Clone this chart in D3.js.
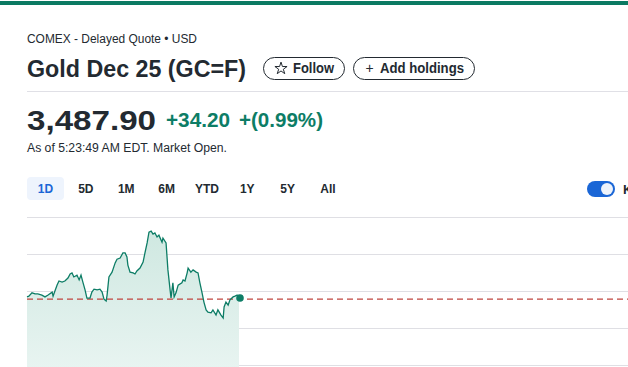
<!DOCTYPE html>
<html>
<head>
<meta charset="utf-8">
<script src="https://cdn.jsdelivr.net/npm/d3@7"></script>
<style>
  html, body { margin: 0; padding: 0; background: #fff; overflow: hidden; }
  svg { display: block; font-family: "Liberation Sans", Arial, sans-serif; }
</style>
</head>
<body>
<div id="chart"></div>
<script>
// Intraday quote (minutes after session open)
const minutes = [0, 6, 16, 26, 35, 48, 58, 68, 81, 84, 90, 97, 103, 113, 122, 132, 139, 145, 151, 161,
  168, 174, 180, 187, 193, 203, 209, 216, 226, 235, 242, 248, 255, 258, 264, 274, 284, 290, 300, 309,
  316, 322, 325, 332, 342, 348, 354, 364, 374, 380, 387, 393, 400, 406, 412, 419, 425, 435, 438, 448,
  454, 461, 464, 470, 474, 480, 487, 499, 503, 509, 516, 519, 528, 535, 545, 551, 557, 564, 570, 577,
  583, 593, 599, 609, 615, 625, 632, 635, 641, 648, 654, 664, 670, 677, 683];
const prices = [3478.4, 3478.6, 3479.5, 3479.2, 3479.2, 3478.9, 3478.4, 3478.9, 3479.7, 3478.6, 3480.0, 3481.6, 3482.7, 3482.4, 3482.7, 3483.5, 3484.6, 3484.9, 3483.8, 3484.3,
  3483.0, 3484.3, 3482.4, 3480.3, 3478.1, 3478.1, 3479.7, 3480.5, 3480.3, 3480.5, 3479.7, 3477.8, 3477.3, 3478.9, 3483.8, 3485.1, 3487.6, 3488.6, 3488.9, 3490.3,
  3490.3, 3489.2, 3487.0, 3485.1, 3484.9, 3484.6, 3485.4, 3486.2, 3487.8, 3490.3, 3493.0, 3495.9, 3496.2, 3495.4, 3495.7, 3494.6, 3495.1, 3493.2, 3494.3, 3493.0,
  3485.7, 3480.3, 3478.1, 3482.2, 3478.4, 3479.5, 3481.6, 3482.2, 3483.0, 3482.7, 3484.9, 3486.2, 3485.1, 3485.7, 3485.1, 3484.9, 3482.2, 3479.5, 3477.0, 3474.9,
  3474.3, 3474.1, 3474.9, 3473.5, 3474.9, 3473.5, 3472.7, 3475.7, 3477.0, 3476.2, 3477.6, 3478.4, 3478.6, 3478.9, 3478.1];
const prevClose = 3477.8;
const gridTicks = [3460, 3470, 3480, 3490, 3500];
const rangeTabs = ["1D", "5D", "1M", "6M", "YTD", "1Y", "5Y", "All"];

const W = 628, H = 367;
const dark = "#232a31", green = "#0d7d66", blue = "#1a66d6";

const svg = d3.select("#chart").append("svg")
  .attr("width", W).attr("height", H);

// top brand bar
svg.append("rect").attr("x", 0).attr("y", 1).attr("width", W).attr("height", 4).attr("fill", "#0b7a62");

// header texts
function txt(s, x, y, size, weight, fill, len) {
  const t = svg.append("text").attr("x", x).attr("y", y)
    .attr("font-size", size).attr("font-weight", weight).attr("fill", fill).text(s);
  if (len) t.attr("textLength", len).attr("lengthAdjust", "spacingAndGlyphs");
  return t;
}
txt("COMEX - Delayed Quote • USD", 27, 43, 12, 400, dark, 170);
txt("Gold Dec 25 (GC=F)", 27, 77, 24.5, 700, dark, 219);

// buttons
svg.append("rect").attr("x", 263.5).attr("y", 57.5).attr("width", 81).attr("height", 22).attr("rx", 11)
  .attr("fill", "#fff").attr("stroke", dark).attr("stroke-width", 1);
svg.append("path").attr("d", d3.symbol(d3.symbolStar).size(46)())
  .attr("transform", "translate(281,68.5)").attr("fill", "none").attr("stroke", dark).attr("stroke-width", 1);
txt("Follow", 293, 73, 15, 700, dark, 41);
svg.append("rect").attr("x", 353.5).attr("y", 57.5).attr("width", 121).attr("height", 22).attr("rx", 11)
  .attr("fill", "#fff").attr("stroke", dark).attr("stroke-width", 1);
txt("+", 365.5, 73, 14, 400, dark);
txt("Add holdings", 380, 73, 15, 700, dark, 84);

svg.append("line").attr("x1", 27).attr("x2", W).attr("y1", 91.5).attr("y2", 91.5)
  .attr("stroke", "#e0e0e6");

// quote
txt("3,487.90", 27, 130, 28, 700, dark, 129);
txt("+34.20", 166, 127, 19.5, 700, green, 64);
txt("+(0.99%)", 239, 127, 19.5, 700, green, 84);
txt("As of 5:23:49 AM EDT. Market Open.", 27, 152, 12, 400, dark, 200);

// range tabs
const tabX = d3.scalePoint().domain(rangeTabs).range([45.5, 328]);
tabX.domain().forEach((d, i) => {
  if (i === 0) {
    svg.append("rect").attr("x", 27).attr("y", 177).attr("width", 37).attr("height", 23).attr("rx", 4)
      .attr("fill", "#eef4fd");
  }
});
svg.append("g").selectAll("text").data(rangeTabs).join("text")
  .attr("x", d => tabX(d)).attr("y", 193).attr("text-anchor", "middle")
  .attr("font-size", 12).attr("font-weight", 700)
  .attr("fill", (d, i) => i === 0 ? blue : dark).text(d => d);

// key events toggle
svg.append("rect").attr("x", 587).attr("y", 181).attr("width", 28).attr("height", 16).attr("rx", 8).attr("fill", blue);
svg.append("circle").attr("cx", 607).attr("cy", 189).attr("r", 6).attr("fill", "#eef3fb");
txt("Key Events", 623, 194, 13, 700, dark);

// chart
const x = d3.scaleLinear().domain([0, 1940]).range([27, 27 + 1940 * 212 / 683]);
const y = d3.scaleLinear().domain([3460, 3500]).range([365, 217]);

svg.append("g").selectAll("line").data(gridTicks).join("line")
  .attr("x1", 27).attr("x2", W)
  .attr("y1", d => Math.round(y(d)) + 0.5).attr("y2", d => Math.round(y(d)) + 0.5)
  .attr("stroke", "#dfdfe4").attr("stroke-width", 1);

const data = minutes.map((m, i) => ({ m, p: prices[i] }));

const defs = svg.append("defs");
const grad = defs.append("linearGradient").attr("id", "fill").attr("x1", 0).attr("x2", 0).attr("y1", 0).attr("y2", 1);
grad.append("stop").attr("offset", "0%").attr("stop-color", "#cfe8e1");
grad.append("stop").attr("offset", "100%").attr("stop-color", "#e8f4f1");

svg.append("path").datum(data)
  .attr("fill", "url(#fill)")
  .attr("d", d3.area().x(d => x(d.m)).y0(H + 2).y1(d => y(d.p)));

svg.append("line").attr("x1", 27).attr("x2", W)
  .attr("y1", y(prevClose)).attr("y2", y(prevClose))
  .attr("stroke", "#c0443f").attr("stroke-width", 1.2).attr("stroke-dasharray", "6,4");

svg.append("path").datum(data)
  .attr("fill", "none").attr("stroke", green).attr("stroke-width", 1.3)
  .attr("d", d3.line().x(d => x(d.m)).y(d => y(d.p)));

const last = data[data.length - 1];
svg.append("circle").attr("cx", x(last.m) + 1).attr("cy", y(last.p)).attr("r", 3.8).attr("fill", green);
</script>
</body>
</html>
